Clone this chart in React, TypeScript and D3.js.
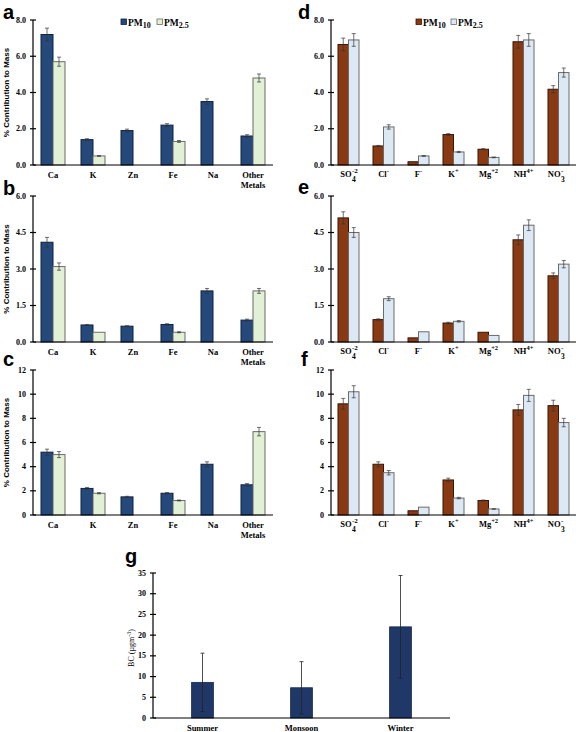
import React from 'react';
import * as d3 from 'd3';

const metalCats = ["Ca", "K", "Zn", "Fe", "Na", "Other Metals"];
const ionCats = ["SO4", "Cl", "F", "K", "Mg", "NH4", "NO3"];
const seasons = ["Summer", "Monsoon", "Winter"];

// Panel a
const aPM10 = [7.2, 1.4, 1.9, 2.2, 3.5, 1.6];
const aPM10Err = [0.35, 0.05, 0.08, 0.08, 0.15, 0.07];
const aPM25 = [5.7, 0.5, null, 1.3, null, 4.8];
const aPM25Err = [0.25, 0.02, null, 0.05, null, 0.22];
// Panel b
const bPM10 = [4.1, 0.7, 0.65, 0.72, 2.1, 0.9];
const bPM10Err = [0.2, 0.02, 0.02, 0.03, 0.1, 0.04];
const bPM25 = [3.1, 0.4, null, 0.4, null, 2.1];
const bPM25Err = [0.15, 0.01, null, 0.02, null, 0.1];
// Panel c
const cPM10 = [5.2, 2.2, 1.5, 1.8, 4.2, 2.5];
const cPM10Err = [0.25, 0.08, 0.05, 0.06, 0.2, 0.1];
const cPM25 = [5.0, 1.8, null, 1.2, null, 6.9];
const cPM25Err = [0.25, 0.05, null, 0.04, null, 0.35];
// Panel d (ions)
const dPM10 = [6.65, 1.05, 0.18, 1.68, 0.87, 6.8, 4.18];
const dPM10Err = [0.35, 0.03, 0.01, 0.05, 0.03, 0.35, 0.2];
const dPM25 = [6.9, 2.1, 0.5, 0.72, 0.42, 6.9, 5.1];
const dPM25Err = [0.35, 0.12, 0.02, 0.03, 0.02, 0.35, 0.25];
// Panel e
const ePM10 = [5.1, 0.92, 0.17, 0.78, 0.4, 4.2, 2.72];
const ePM10Err = [0.25, 0.03, 0.01, 0.03, 0.01, 0.2, 0.12];
const ePM25 = [4.5, 1.78, 0.42, 0.85, 0.27, 4.8, 3.2];
const ePM25Err = [0.2, 0.08, 0.01, 0.03, 0.01, 0.22, 0.15];
// Panel f
const fPM10 = [9.2, 4.2, 0.35, 2.9, 1.2, 8.7, 9.05];
const fPM10Err = [0.45, 0.2, 0.01, 0.15, 0.04, 0.45, 0.45];
const fPM25 = [10.2, 3.5, 0.65, 1.4, 0.5, 9.9, 7.65];
const fPM25Err = [0.5, 0.18, 0.01, 0.06, 0.02, 0.5, 0.35];
// Panel g (BC)
const bcMean = [8.6, 7.3, 22.0];
const bcErr = [7.05, 6.3, 12.4];

const ticks8 = [0, 2, 4, 6, 8];
const ticks6 = [0, 1.5, 3, 4.5, 6];
const ticks12 = [0, 2, 4, 6, 8, 10, 12];
const ticks35 = [0, 5, 10, 15, 20, 25, 30, 35];

const NAVY = "#24497a";
const GREEN = "#e2f0d6";
const BROWN = "#8a3a12";
const LBLUE = "#dde8f5";
const GNAVY = "#1f3868";

const SERIF = "'Liberation Serif', 'Times New Roman', serif";
const SANS = "'Liberation Sans', Arial, sans-serif";

function MetalLabel({ name, cx, y }) {
  const parts = name.split(" ");
  return (
    <text x={cx} y={y} textAnchor="middle" fontFamily={SERIF} fontWeight="bold" fontSize={8.5}>
      {parts.map((p, i) => (
        <tspan key={i} x={cx} dy={i === 0 ? 0 : 10}>{p}</tspan>
      ))}
    </text>
  );
}

function IonLabel({ name, cx, y }) {
  const common = { fontFamily: SERIF, fontWeight: "bold" as const };
  if (name === "SO4" || name === "NO3") {
    const base = name === "SO4" ? "SO" : "NO";
    const sup = name === "SO4" ? "-2" : "-";
    const sub = name === "SO4" ? "4" : "3";
    const off = name === "SO4" ? 3 : 2;
    return (
      <g {...common}>
        <text x={cx + off} y={y} textAnchor="end" fontSize={8.5}>{base}</text>
        <text x={cx + off + 0.5} y={y - 4} fontSize={7}>{sup}</text>
        <text x={cx + off + 0.5} y={y + 5} fontSize={7.5}>{sub}</text>
      </g>
    );
  }
  const map = { Cl: ["Cl", "-"], F: ["F", "-"], K: ["K", "+"], Mg: ["Mg", "+2"], NH4: ["NH", "4+"] };
  const [b, s] = map[name];
  return (
    <text x={cx} y={y} textAnchor="middle" fontSize={8.5} {...common}>
      {b}
      <tspan fontSize={6.5} dy={-4}>{s}</tspan>
    </text>
  );
}

function Panel(props) {
  const { cats, pm10, pm10Err, pm25, pm25Err, ticks, fmt, x0, x1, yTop, yBot, c10, c25, s10, s25, kind, title, letter, lx, ly, legend } = props;
  const max = ticks[ticks.length - 1];
  const y = d3.scaleLinear().domain([0, max]).range([yBot, yTop]);
  const x = d3.scaleBand().domain(cats).range([x0, x1]).paddingInner(0.4).paddingOuter(0.2);
  const inner = d3.scaleBand().domain(["PM10", "PM25"]).range([0, x.bandwidth()]).padding(0);
  const bw = inner.bandwidth();
  const series = [
    { key: "PM10", vals: pm10, errs: pm10Err, fill: c10, stroke: s10 },
    { key: "PM25", vals: pm25, errs: pm25Err, fill: c25, stroke: s25 },
  ];
  return (
    <g>
      <text x={lx} y={ly} fontFamily={SANS} fontWeight="bold" fontSize={20}>{letter}</text>
      {series.map((s) =>
        cats.map((c, i) => {
          const v = s.vals[i];
          if (v === null || v === undefined) return null;
          const bx = (x(c) as number) + (inner(s.key) as number);
          const e = s.errs[i] || 0;
          const ex = bx + bw / 2;
          return (
            <g key={s.key + c}>
              <rect x={bx} y={y(v)} width={bw} height={yBot - y(v)} fill={s.fill} stroke={s.stroke} strokeWidth={1} />
              {e > 0.015 && (
                <g stroke="#333" strokeWidth={0.7}>
                  <line x1={ex} x2={ex} y1={y(v + e)} y2={y(v - e)} />
                  <line x1={ex - 2} x2={ex + 2} y1={y(v + e)} y2={y(v + e)} />
                  <line x1={ex - 2} x2={ex + 2} y1={y(v - e)} y2={y(v - e)} />
                </g>
              )}
            </g>
          );
        })
      )}
      <line x1={x0} x2={x1} y1={yBot} y2={yBot} stroke="#000" strokeWidth={1.2} />
      <line x1={x0} x2={x0} y1={yTop} y2={yBot} stroke="#000" strokeWidth={1.2} />
      {ticks.map((t) => (
        <g key={t}>
          <line x1={x0 - 3} x2={x0 + 3} y1={y(t)} y2={y(t)} stroke="#000" strokeWidth={1.2} />
          <text x={x0 - 7} y={y(t)} dy="0.33em" textAnchor="end" fontFamily={SERIF} fontWeight="bold" fontSize={8}>{fmt(t)}</text>
        </g>
      ))}
      {cats.map((c) => {
        const cx = (x(c) as number) + x.bandwidth() / 2;
        return kind === "metal" ? (
          <MetalLabel key={c} name={c} cx={cx} y={yBot + 13} />
        ) : (
          <IonLabel key={c} name={c} cx={cx} y={yBot + 12} />
        );
      })}
      {title && (
        <text transform={`translate(9,${(yTop + yBot) / 2}) rotate(-90)`} textAnchor="middle" fontFamily={SANS} fontWeight="bold" fontSize={8}>
          % Contribution to Mass
        </text>
      )}
      {legend && (
        <g fontFamily={SERIF} fontWeight="bold" fontSize={9.5}>
          <rect x={legend.x} y={legend.y} width={5.5} height={5.5} fill={c10} stroke={s10} strokeWidth={0.8} />
          <text x={legend.x + 7} y={legend.y + 6.5}>PM<tspan fontSize={8} dy={2.5}>10</tspan></text>
          <rect x={legend.x + legend.gap} y={legend.y} width={5.5} height={5.5} fill={c25} stroke={s25} strokeWidth={0.8} />
          <text x={legend.x + legend.gap + 7} y={legend.y + 6.5}>PM<tspan fontSize={8} dy={2.5}>2.5</tspan></text>
        </g>
      )}
    </g>
  );
}

function BCPanel() {
  const x0 = 153, x1 = 450, yTop = 573, yBot = 718;
  const y = d3.scaleLinear().domain([0, 35]).range([yBot, yTop]);
  const x = d3.scaleBand().domain(seasons).range([x0, x1]).paddingInner(0.78).paddingOuter(0.39);
  return (
    <g>
      <text x={125} y={563} fontFamily={SANS} fontWeight="bold" fontSize={20}>g</text>
      {seasons.map((s, i) => {
        const bx = x(s) as number;
        const v = bcMean[i];
        const e = bcErr[i];
        const cx = bx + x.bandwidth() / 2;
        return (
          <g key={s}>
            <rect x={bx} y={y(v)} width={x.bandwidth()} height={yBot - y(v)} fill={GNAVY} stroke="#16284a" strokeWidth={0.8} />
            <g stroke="#222" strokeWidth={0.8}>
              <line x1={cx} x2={cx} y1={y(v + e)} y2={y(v - e)} />
              <line x1={cx - 2} x2={cx + 2} y1={y(v + e)} y2={y(v + e)} />
              <line x1={cx - 2} x2={cx + 2} y1={y(v - e)} y2={y(v - e)} />
            </g>
            <text x={cx} y={731} textAnchor="middle" fontFamily={SERIF} fontWeight="bold" fontSize={8.5}>{s}</text>
          </g>
        );
      })}
      <line x1={x0} x2={x1} y1={yBot} y2={yBot} stroke="#000" strokeWidth={1.2} />
      <line x1={x0} x2={x0} y1={yTop} y2={yBot} stroke="#000" strokeWidth={1.2} />
      {ticks35.map((t) => (
        <g key={t}>
          <line x1={x0 - 3} x2={x0 + 3} y1={y(t)} y2={y(t)} stroke="#000" strokeWidth={1.2} />
          <text x={x0 - 7} y={y(t)} dy="0.33em" textAnchor="end" fontFamily={SERIF} fontWeight="bold" fontSize={8}>{t}</text>
        </g>
      ))}
      <text transform={`translate(134,648) rotate(-90)`} textAnchor="middle" fontFamily={SERIF} fontSize={8}>
        BC (µgm<tspan fontSize={6} dy={-3}>-3</tspan><tspan dy={3}>)</tspan>
      </text>
    </g>
  );
}

const f1 = d3.format(".1f");
const f0 = d3.format("d");

export default function App() {
  const L = { cats: metalCats, x0: 33, x1: 273, c10: NAVY, c25: GREEN, s10: "#0e2240", s25: "#6b6b6b", kind: "metal", title: true, lx: 3 };
  const R = { cats: ionCats, x0: 331, x1: 576, c10: BROWN, c25: LBLUE, s10: "#3a1404", s25: "#6b6b6b", kind: "ion", title: false, lx: 298 };
  return (
    <svg width={576} height={732} style={{ position: "absolute", left: 0, top: 0, background: "#fff" }}>
      <rect width={576} height={732} fill="#fff" />
      <Panel {...L} pm10={aPM10} pm10Err={aPM10Err} pm25={aPM25} pm25Err={aPM25Err} ticks={ticks8} fmt={f1} yTop={20} yBot={165} letter="a" ly={18.5} legend={{ x: 121, y: 19, gap: 36 }} />
      <Panel {...L} pm10={bPM10} pm10Err={bPM10Err} pm25={bPM25} pm25Err={bPM25Err} ticks={ticks6} fmt={f1} yTop={196} yBot={342} letter="b" ly={195} />
      <Panel {...L} pm10={cPM10} pm10Err={cPM10Err} pm25={cPM25} pm25Err={cPM25Err} ticks={ticks12} fmt={f0} yTop={370} yBot={515} letter="c" ly={366} />
      <Panel {...R} pm10={dPM10} pm10Err={dPM10Err} pm25={dPM25} pm25Err={dPM25Err} ticks={ticks8} fmt={f1} yTop={20} yBot={165} letter="d" ly={18.5} legend={{ x: 416, y: 19, gap: 35 }} />
      <Panel {...R} pm10={ePM10} pm10Err={ePM10Err} pm25={ePM25} pm25Err={ePM25Err} ticks={ticks6} fmt={f1} yTop={196} yBot={342} letter="e" ly={194} />
      <Panel {...R} pm10={fPM10} pm10Err={fPM10Err} pm25={fPM25} pm25Err={fPM25Err} ticks={ticks12} fmt={f0} yTop={370} yBot={515} letter="f" lx={301} ly={366} />
      <BCPanel />
    </svg>
  );
}
